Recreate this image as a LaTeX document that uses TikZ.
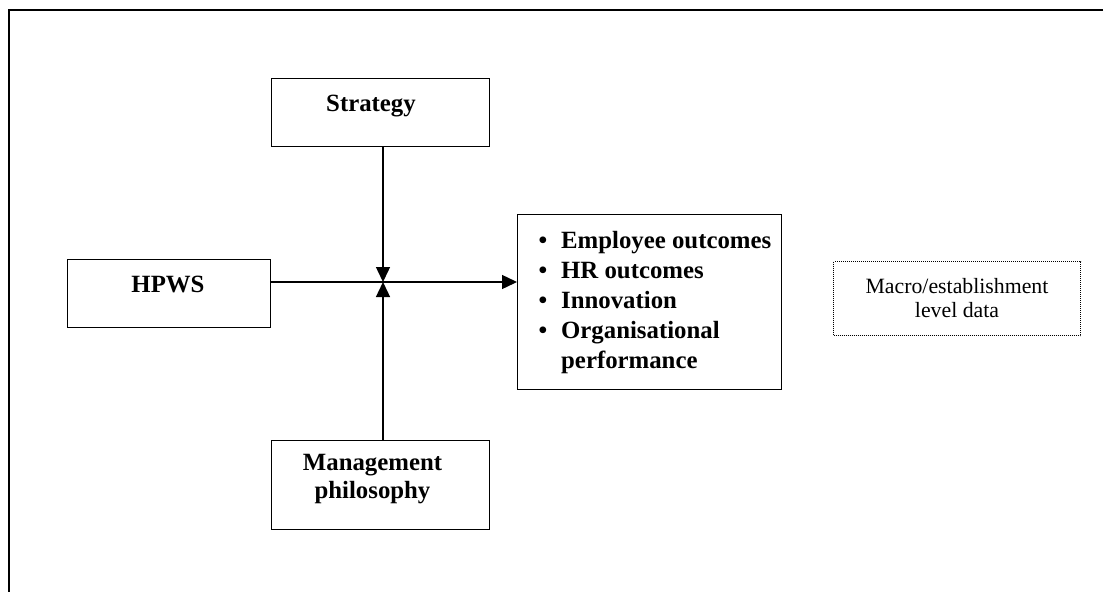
\documentclass[tikz,border=0pt]{standalone}
\usepackage{fontspec}
\setmainfont{Liberation Serif}
\usetikzlibrary{arrows.meta}

% bullet hung to the left of each outcome line
\newcommand\outitem{\llap{\textbullet\hspace{14pt}}}

\begin{document}
\begin{tikzpicture}[x=1pt,y=-1pt,
  box/.style={draw, line width=1.2pt, inner sep=0pt, anchor=north west},
  noteframe/.style={draw, line width=1pt, dash pattern=on 1pt off 1pt, inner sep=0pt, anchor=north west},
  boldtext/.style={font=\fontsize{24.8}{28}\selectfont\bfseries, inner sep=0pt, align=center},
  plaintext/.style={font=\fontsize{21.8}{24}\selectfont, inner sep=0pt, align=center},
  conn/.style={line width=1.4pt, -{Triangle[length=15pt,width=14pt]}}]

\useasboundingbox (0,0) rectangle (1105,592);

% page frame (top and left rules)
\draw[line width=1.1pt] (1103,10) -- (9,10) -- (9,592);

% boxes
\node[box, minimum width=218pt, minimum height=68pt] (strategy) at (271,78) {};
\node[box, minimum width=203pt, minimum height=68pt] (hpws) at (67,259) {};
\node[box, minimum width=264pt, minimum height=175pt] (outcomes) at (517,214) {};
\node[box, minimum width=218pt, minimum height=89pt] (mgmt) at (271,440) {};
\node[noteframe, minimum width=247pt, minimum height=74pt] (macro) at (833,261) {};

% box texts (multi-line nodes sit on the baseline of their last line)
\node[boldtext, anchor=base] (strategytxt) at (371,111.7) {Strategy};
\node[boldtext, anchor=base] (hpwstxt) at (168,292.7) {HPWS};
\node[boldtext, anchor=base] (mgmttxt) at (372.5,498) {Management\\philosophy};
\node[boldtext, anchor=base west, align=left,
      font=\fontsize{24.8}{30}\selectfont\bfseries] (outcomestxt) at (561,368.3)
  {\outitem Employee outcomes\\\outitem HR outcomes\\\outitem Innovation\\\outitem Organisational\\performance};
\node[plaintext, anchor=base] (macrotxt) at (957,317) {Macro/establishment\\level data};

% connectors meeting at one point on the HPWS line
\coordinate (jn) at (383,282);
\draw[conn] (strategy.south -| jn) -- (jn);
\draw[conn] (mgmt.north -| jn) -- (jn);
\draw[conn] (hpws.east |- jn) -- (outcomes.west |- jn);

\end{tikzpicture}
\end{document}
